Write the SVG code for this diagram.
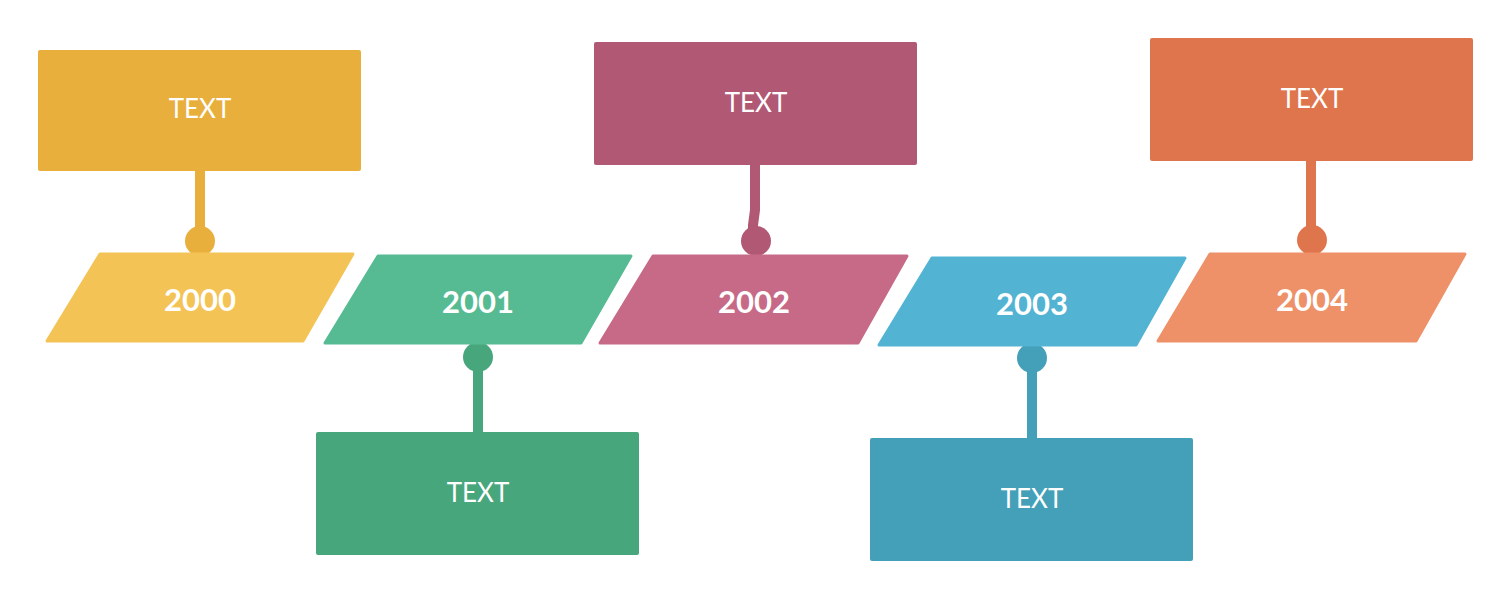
<svg xmlns="http://www.w3.org/2000/svg" width="1512" height="600" viewBox="0 0 1512 600">
<style>
.box{rx:2}
.t{font-family:Lato,"Liberation Sans",sans-serif;fill:#fff;text-anchor:middle;dominant-baseline:central}
.lbl{font-size:26px}
.yr{font-size:31px;font-weight:bold}
.ln{stroke-width:10;fill:none}
</style>
<rect width="1512" height="600" fill="#fff"/>
<g id="connectors">
<line class="ln" x1="200" y1="170" x2="200" y2="240" stroke="#E8AF3C"/>
<circle cx="200" cy="241" r="15" fill="#E8AF3C"/>
<line class="ln" x1="478" y1="358" x2="478" y2="434" stroke="#48A67D"/>
<circle cx="478" cy="357" r="15" fill="#48A67D"/>
<path class="ln" d="M755 164 V210 L753 225 V240" stroke="#B15875"/>
<circle cx="756" cy="241" r="15" fill="#B15875"/>
<line class="ln" x1="1032" y1="359" x2="1032" y2="440" stroke="#43A0B8"/>
<circle cx="1032" cy="358" r="15" fill="#43A0B8"/>
<line class="ln" x1="1311" y1="160" x2="1311" y2="239" stroke="#DF754C"/>
<circle cx="1312" cy="240" r="15" fill="#DF754C"/>
</g>
<g id="n2000">
<rect class="box" x="38" y="50" width="323" height="121" fill="#E8AF3C"/>
<text class="t lbl" x="200" y="108">TEXT</text>
<polygon points="100,254 353,254 303,341 47,341" fill="#F4C356" stroke="#F4C356" stroke-width="3" stroke-linejoin="round"/>
<text class="t yr" x="200" y="299">2000</text>
</g>
<g id="n2001">
<polygon points="378,256 631,256 581,343 325,343" fill="#56BB93" stroke="#56BB93" stroke-width="3" stroke-linejoin="round"/>
<text class="t yr" x="478" y="301">2001</text>
<rect class="box" x="316" y="432" width="323" height="123" fill="#48A67D"/>
<text class="t lbl" x="478" y="492">TEXT</text>
</g>
<g id="n2002">
<rect class="box" x="594" y="42" width="323" height="123" fill="#B15875"/>
<text class="t lbl" x="756" y="102">TEXT</text>
<polygon points="653,256 907,256 858,343 600,343" fill="#C76A87" stroke="#C76A87" stroke-width="3" stroke-linejoin="round"/>
<text class="t yr" x="754" y="301">2002</text>
</g>
<g id="n2003">
<polygon points="932,258 1185,258 1136,345 879,345" fill="#52B3D3" stroke="#52B3D3" stroke-width="3" stroke-linejoin="round"/>
<text class="t yr" x="1032" y="303">2003</text>
<rect class="box" x="870" y="438" width="323" height="123" fill="#43A0B8"/>
<text class="t lbl" x="1032" y="498">TEXT</text>
</g>
<g id="n2004">
<rect class="box" x="1150" y="38" width="323" height="123" fill="#DF754C"/>
<text class="t lbl" x="1312" y="98">TEXT</text>
<polygon points="1210,254 1465,254 1416,341 1158,341" fill="#EE9168" stroke="#EE9168" stroke-width="3" stroke-linejoin="round"/>
<text class="t yr" x="1312" y="299">2004</text>
</g>
</svg>
